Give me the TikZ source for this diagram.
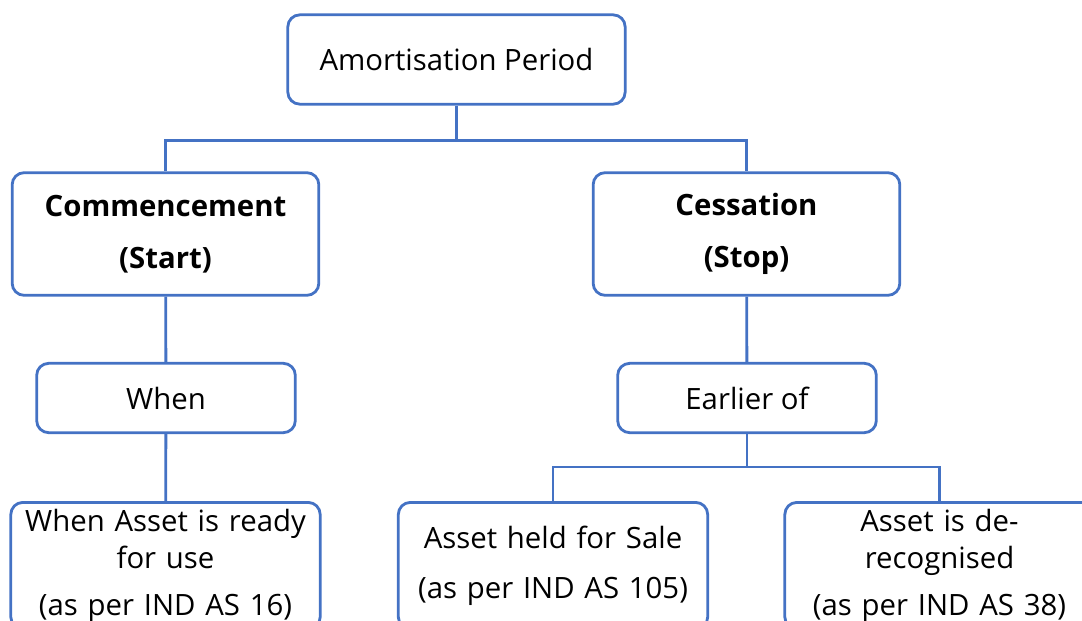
\documentclass[tikz,border=0pt]{standalone}
\usepackage{fontspec}
\setmainfont{Open Sans}
\definecolor{boxblue}{HTML}{4472C4}
\begin{document}
\begin{tikzpicture}[
    x=0.75pt,y=-0.75pt,
    box/.style={draw=boxblue,line width=2.1pt,rounded corners=9pt,fill=white,
        align=center,inner sep=2pt,font=\fontsize{22}{27.75}\selectfont},
    big/.style={box,minimum width=230pt,minimum height=92pt},
    small/.style={box,minimum width=194pt,minimum height=52pt},
    leaf/.style={box,anchor=north,minimum width=232pt,minimum height=95pt,text width=225pt},
    link/.style={draw=boxblue,line width=2.1pt}
]
    \useasboundingbox (0,0) rectangle (1082,621);
    \node[box,minimum width=253pt,minimum height=67pt] (amort) at (456.5,59.5) {Amortisation Period};
    \node[big] (comm) at (165.5,234) {\textbf{Commencement}\\[11pt]\textbf{(Start)}};
    \node[big] (cess) at (746.5,234) {\textbf{Cessation}\\[11pt]\textbf{(Stop)}};
    \node[small] (when) at (166,398) {When};
    \node[small] (earl) at (747,398) {Earlier of};
    \node[leaf] (ready) at (165.5,501) {When Asset is ready\\for use\\[8pt](as per IND AS 16)};
    \node[leaf] (sale) at (553,501) {Asset held for Sale\\[10pt](as per IND AS 105)};
    \node[leaf] (derec) at (939.5,501) {Asset is de-\\recognised\\[8pt](as per IND AS 38)};
    % tree connectors
    \draw[link] (amort.south) -- ++(0,35) -| (comm.north);
    \draw[link] (amort.south) -- ++(0,35) -| (cess.north);
    \draw[link] (comm) -- (when);
    \draw[link] (cess) -- (earl);
    \draw[link] (when) -- (ready);
    \draw[link] (earl.south) -- ++(0,33) -| (sale.north);
    \draw[link] (earl.south) -- ++(0,33) -| (derec.north);
\end{tikzpicture}
\end{document}
